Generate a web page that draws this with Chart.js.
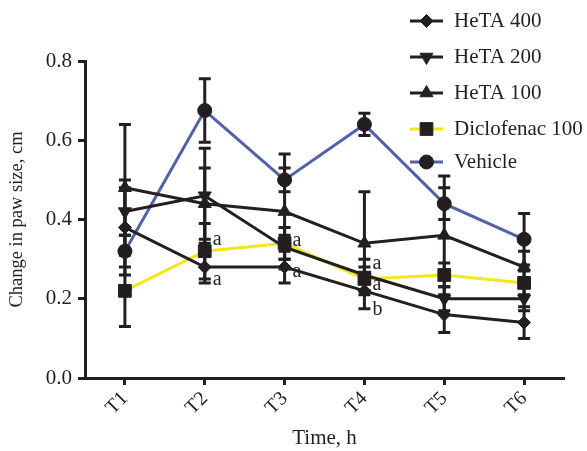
<!DOCTYPE html>
<html>
<head>
<meta charset="utf-8">
<script src="https://cdn.jsdelivr.net/npm/chart.js@4/dist/chart.umd.min.js"></script>
<style>
html,body{margin:0;padding:0;background:#fff;}
#wrap{position:relative;width:587px;height:451px;}
</style>
</head>
<body>
<div id="wrap"><canvas id="c" width="587" height="451"></canvas></div>
<script>
const categories = ['T1','T2','T3','T4','T5','T6'];
const yTicks = [0.0, 0.2, 0.4, 0.6, 0.8];

const heta400 = [0.38, 0.28, 0.28, 0.22, 0.16, 0.14];
const heta400Err = [0.12, 0.04, 0.04, 0.045, 0.045, 0.04];
const heta200 = [0.42, 0.46, 0.33, 0.26, 0.20, 0.20];
const heta200Err = [0.06, 0.12, 0.03, 0.04, 0.03, 0.03];
const heta100 = [0.48, 0.44, 0.42, 0.34, 0.36, 0.28];
const heta100Err = [0.16, 0.09, 0.145, 0.13, 0.15, 0.04];
const diclofenac = [0.22, 0.32, 0.34, 0.25, 0.26, 0.24];
const diclofenacErr = [0.09, 0.07, 0.04, 0.03, 0.03, 0.03];
const vehicle = [0.32, 0.675, 0.50, 0.64, 0.44, 0.35];
const vehicleErr = [0.04, 0.08, 0.03, 0.028, 0.04, 0.065];

// significance letters: [category index, value, text]
const sigLabels = [
  [1, 0.348, 'a'], [1, 0.247, 'a'],
  [2, 0.346, 'a'], [2, 0.268, 'a'],
  [3, 0.288, 'a'], [3, 0.235, 'a'], [3, 0.172, 'b']
];

const INK = '#231f20';
const BLUE = '#5161aa';
const YELLOW = '#f2e61c';
const FONT = '"Liberation Serif", "Times New Roman", serif';

function ds(label, data, err, color, style, rot, radius) {
  return {
    label, data, err,
    borderColor: color, backgroundColor: INK,
    pointBackgroundColor: INK, pointBorderColor: INK,
    pointStyle: style, pointRotation: rot || 0, pointRadius: radius, pointHoverRadius: radius,
    borderWidth: 3, pointBorderWidth: 1, tension: 0, fill: false
  };
}

const datasets = [
  ds('HeTA 400', heta400, heta400Err, INK, 'rectRot', 0, 6.5),
  ds('HeTA 200', heta200, heta200Err, INK, 'triangle', 180, 7.5),
  ds('HeTA 100', heta100, heta100Err, INK, 'triangle', 0, 7.5),
  ds('Diclofenac 100', diclofenac, diclofenacErr, YELLOW, 'rect', 0, 9),
  ds('Vehicle', vehicle, vehicleErr, BLUE, 'circle', 0, 7)
];

const errorBars = {
  id: 'errorBars',
  beforeDatasetsDraw(chart) {
    const ctx = chart.ctx, xs = chart.scales.x, ys = chart.scales.y;
    ctx.save();
    ctx.strokeStyle = INK;
    ctx.lineWidth = 3;
    chart.data.datasets.forEach(d => {
      d.data.forEach((v, i) => {
        const x = xs.getPixelForValue(i);
        const yt = ys.getPixelForValue(v + d.err[i]);
        const yb = ys.getPixelForValue(v - d.err[i]);
        ctx.beginPath();
        ctx.moveTo(x, yt); ctx.lineTo(x, yb);
        ctx.moveTo(x - 6, yt); ctx.lineTo(x + 6, yt);
        ctx.moveTo(x - 6, yb); ctx.lineTo(x + 6, yb);
        ctx.stroke();
      });
    });
    ctx.restore();
  },
  afterDatasetsDraw(chart) {
    const ctx = chart.ctx, xs = chart.scales.x, ys = chart.scales.y;
    ctx.save();
    ctx.fillStyle = INK;
    ctx.font = '20px ' + FONT;
    ctx.textAlign = 'left';
    ctx.textBaseline = 'middle';
    sigLabels.forEach(([i, v, t]) => {
      ctx.fillText(t, xs.getPixelForValue(i) + 8, ys.getPixelForValue(v));
    });
    // legend
    const x0 = 410, x1 = 443, tx = 454;
    const ys0 = [21, 57, 93, 129, 162];
    ctx.font = '21px ' + FONT;
    chart.data.datasets.forEach((d, k) => {
      const y = ys0[k];
      ctx.strokeStyle = d.borderColor;
      ctx.lineWidth = 3;
      ctx.beginPath(); ctx.moveTo(x0, y); ctx.lineTo(x1, y); ctx.stroke();
      ctx.fillStyle = INK; ctx.strokeStyle = INK; ctx.lineWidth = 1;
      if (Chart.helpers && Chart.helpers.drawPoint) {
        Chart.helpers.drawPoint(ctx, {pointStyle: d.pointStyle, rotation: d.pointRotation, radius: d.pointRadius, borderWidth: 1}, (x0 + x1) / 2, y);
      }
      ctx.fillStyle = INK;
      ctx.fillText(d.label, tx, y);
    });
    ctx.restore();
  }
};

new Chart(document.getElementById('c'), {
  type: 'line',
  data: { labels: categories, datasets },
  plugins: [errorBars],
  options: {
    responsive: false,
    animation: false,
    events: [],
    layout: { padding: { top: 61, right: 23, left: 0, bottom: 0 } },
    plugins: { legend: { display: false }, tooltip: { enabled: false } },
    scales: {
      x: {
        type: 'category',
        offset: true,
        grid: { display: true, drawOnChartArea: false, drawTicks: true, tickLength: 7, tickWidth: 3, tickColor: INK },
        border: { display: true, color: INK, width: 3 },
        ticks: { color: INK, font: { family: FONT, size: 20 }, minRotation: 45, maxRotation: 45, padding: 2 },
        title: { display: true, text: 'Time, h', color: INK, font: { family: FONT, size: 21 }, padding: { top: 0, bottom: 0 } },
        afterFit(s) { s.height = 73; }
      },
      y: {
        min: 0, max: 0.8,
        afterBuildTicks(s) { s.ticks = yTicks.map(v => ({ value: v })); },
        grid: { display: true, drawOnChartArea: false, drawTicks: true, tickLength: 7, tickWidth: 3, tickColor: INK },
        border: { display: true, color: INK, width: 3 },
        ticks: { color: INK, font: { family: FONT, size: 21 }, padding: 6, callback: v => Number(v).toFixed(1) },
        title: { display: true, text: 'Change in paw size, cm', color: INK, font: { family: FONT, size: 18.5 }, padding: { top: 6, bottom: 0 } },
        afterFit(s) { s.width = 85; }
      }
    }
  }
});
</script>
</body>
</html>
